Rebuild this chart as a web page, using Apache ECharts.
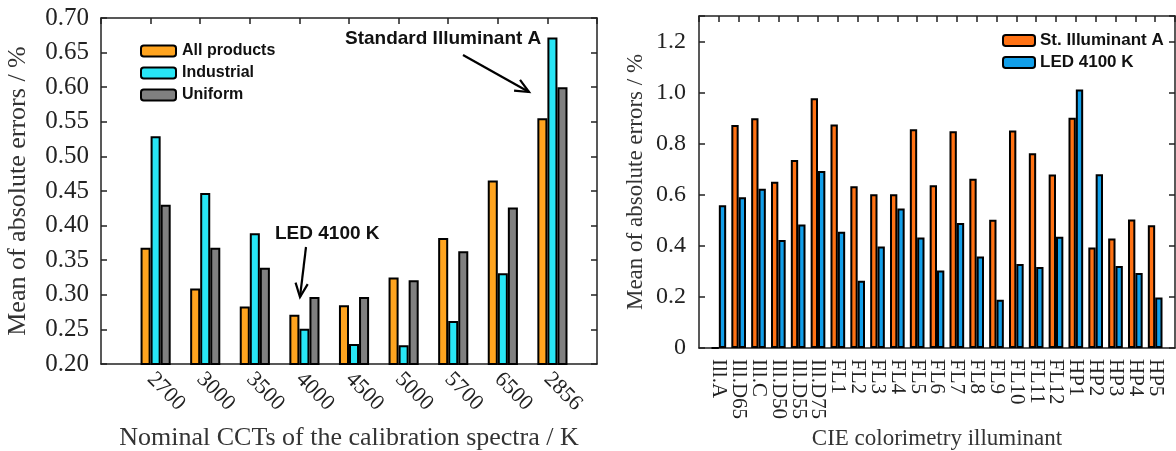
<!DOCTYPE html>
<html>
<head>
<meta charset="utf-8">
<title>Mean of absolute errors</title>
<script src="https://cdn.jsdelivr.net/npm/echarts@6/dist/echarts.min.js"></script>
<style>
  html, body { margin: 0; padding: 0; background: #fff; }
  #chart { width: 1176px; height: 451px; }
</style>
</head>
<body>
<div id="chart"></div>
<script>
// left chart: nominal CCTs of the calibration spectra
const cctLabels = ['2700', '3000', '3500', '4000', '4500', '5000', '5700', '6500', '2856'];
const allProducts = [0.368, 0.309, 0.283, 0.271, 0.285, 0.325, 0.382, 0.465, 0.555];
const industrial = [0.529, 0.447, 0.389, 0.251, 0.229, 0.227, 0.262, 0.331, 0.672];
const uniform = [0.430, 0.368, 0.339, 0.297, 0.297, 0.321, 0.363, 0.426, 0.600];
const leftTicks = [0.20, 0.25, 0.30, 0.35, 0.40, 0.45, 0.50, 0.55, 0.60, 0.65, 0.70];

// right chart: CIE colorimetry illuminants
const illuminants = ['Ill.A', 'Ill.D65', 'Ill.C', 'Ill.D50', 'Ill.D55', 'Ill.D75',
  'FL1', 'FL2', 'FL3', 'FL4', 'FL5', 'FL6', 'FL7', 'FL8', 'FL9', 'FL10', 'FL11', 'FL12',
  'HP1', 'HP2', 'HP3', 'HP4', 'HP5'];
const stIlluminantA = [0, 0.873, 0.900, 0.651, 0.736, 0.978, 0.875, 0.633, 0.602, 0.602,
  0.857, 0.637, 0.849, 0.663, 0.502, 0.852, 0.763, 0.679, 0.902, 0.394, 0.429, 0.503, 0.481];
const led4100 = [0.559, 0.590, 0.624, 0.423, 0.484, 0.693, 0.455, 0.263, 0.397, 0.546,
  0.433, 0.303, 0.489, 0.358, 0.189, 0.329, 0.317, 0.436, 1.012, 0.680, 0.321, 0.294, 0.198];
const rightTicks = [0, 0.2, 0.4, 0.6, 0.8, 1.0, 1.2];

const serif = '"Liberation Serif", "DejaVu Serif", serif';
const sans = '"Liberation Sans", Arial, sans-serif';
const frame = { show: true, onZero: false, lineStyle: { color: '#222', width: 1.5 } };

// one empty slot on each side, like the original xlim [0, n+1]
function pad(arr, blank) {
  return [blank].concat(arr, [blank]);
}

function arrow(x1, y1, x2, y2) {
  const a = Math.atan2(y2 - y1, x2 - x1);
  const len = 15, spread = 0.42;
  const p1 = [x2 - len * Math.cos(a - spread), y2 - len * Math.sin(a - spread)];
  const p2 = [x2 - len * Math.cos(a + spread), y2 - len * Math.sin(a + spread)];
  const st = { stroke: '#000', lineWidth: 2.2, fill: null };
  return [
    { type: 'line', shape: { x1: x1, y1: y1, x2: x2, y2: y2 }, style: st, z: 20 },
    { type: 'polyline', shape: { points: [p1, [x2, y2], p2] }, style: st, z: 20 }
  ];
}

const barBorder = { borderColor: '#000', borderWidth: 2 };
const tickStyle = { color: '#222', width: 1.5 };

const option = {
  animation: false,
  backgroundColor: '#fff',
  grid: [
    // outerBoundsMode none: keep the plot boxes where they are (v6 would shrink them)
    { left: 101, top: 18, width: 496, height: 346, outerBoundsMode: 'none' },
    { left: 699, top: 16, width: 476, height: 332, outerBoundsMode: 'none' }
  ],
  legend: [
    {
      data: ['All products', 'Industrial', 'Uniform'],
      orient: 'vertical', left: 135, top: 38,
      itemWidth: 35, itemHeight: 11, itemGap: 6,
      selectedMode: false,
      itemStyle: { borderColor: '#000', borderWidth: 2 },
      textStyle: { fontFamily: sans, fontWeight: 'bold', fontSize: 16, color: '#111', padding: [0, 0, 0, 1] }
    },
    {
      data: ['St. Illuminant A', 'LED 4100 K'],
      orient: 'vertical', left: 997, top: 27,
      itemWidth: 32, itemHeight: 11, itemGap: 5,
      selectedMode: false,
      itemStyle: { borderColor: '#000', borderWidth: 2 },
      textStyle: { fontFamily: sans, fontWeight: 'bold', fontSize: 17, color: '#111' }
    }
  ],
  xAxis: [
    {
      gridIndex: 0, type: 'category', position: 'bottom', boundaryGap: false,
      data: pad(cctLabels, ''),
      axisLine: frame, axisTick: { show: false },
      axisLabel: { interval: 0, rotate: -45, margin: 12, fontFamily: serif, fontSize: 22, color: '#222' },
      name: 'Nominal CCTs of the calibration spectra / K',
      nameLocation: 'middle', nameGap: 61,
      nameTextStyle: { fontFamily: serif, fontSize: 26, color: '#333' }
    },
    {
      gridIndex: 0, type: 'category', position: 'top', boundaryGap: false,
      data: pad(cctLabels, ''),
      axisLine: frame, axisLabel: { show: false },
      axisTick: { inside: true, interval: 0, length: 6, lineStyle: tickStyle }
    },
    {
      gridIndex: 1, type: 'category', position: 'bottom', boundaryGap: false,
      data: pad(illuminants, ''),
      axisLine: frame, axisTick: { show: false },
      axisLabel: { interval: 0, rotate: -90, margin: 11, fontFamily: serif, fontSize: 21, color: '#222' },
      name: 'CIE colorimetry illuminant',
      nameLocation: 'middle', nameGap: 77,
      nameTextStyle: { fontFamily: serif, fontSize: 23, color: '#333' }
    },
    {
      gridIndex: 1, type: 'category', position: 'top', boundaryGap: false,
      data: pad(illuminants, ''),
      axisLine: frame, axisLabel: { show: false },
      axisTick: { inside: true, interval: 0, length: 6, lineStyle: tickStyle }
    }
  ],
  yAxis: [
    {
      gridIndex: 0, type: 'value', position: 'left',
      min: leftTicks[0], max: leftTicks[leftTicks.length - 1], interval: 0.05,
      axisLine: frame, splitLine: { show: false },
      axisTick: { show: true, inside: true, length: 6, lineStyle: tickStyle },
      axisLabel: { margin: 12, fontFamily: serif, fontSize: 25, color: '#222',
        formatter: v => v.toFixed(2) },
      name: 'Mean of absolute errors / %',
      nameLocation: 'middle', nameGap: 70,
      nameTextStyle: { fontFamily: serif, fontSize: 26, color: '#333' }
    },
    {
      gridIndex: 0, type: 'value', position: 'right',
      min: leftTicks[0], max: leftTicks[leftTicks.length - 1], interval: 0.05,
      axisLine: frame, splitLine: { show: false }, axisLabel: { show: false },
      axisTick: { show: true, inside: true, length: 6, lineStyle: tickStyle }
    },
    {
      gridIndex: 1, type: 'value', position: 'left',
      min: rightTicks[0], max: 1.3, interval: 0.2,
      axisLine: frame, splitLine: { show: false },
      axisTick: { show: true, inside: true, length: 6, lineStyle: tickStyle },
      axisLabel: { margin: 13, fontFamily: serif, fontSize: 24, color: '#222',
        formatter: v => (v > 1.25 ? '' : (v === 0 ? '0' : v.toFixed(1))) },
      name: 'Mean of absolute errors / %',
      nameLocation: 'middle', nameGap: 52,
      nameTextStyle: { fontFamily: serif, fontSize: 23, color: '#333' }
    },
    {
      gridIndex: 1, type: 'value', position: 'right',
      min: rightTicks[0], max: 1.3, interval: 0.2,
      axisLine: frame, splitLine: { show: false }, axisLabel: { show: false },
      axisTick: { show: true, inside: true, length: 6, lineStyle: tickStyle }
    }
  ],
  series: [
    // empty first slot of each group (zero bars in the source figure)
    { name: 'empty', type: 'bar', xAxisIndex: 0, yAxisIndex: 0, barGap: 0, barCategoryGap: '19%',
      data: pad(cctLabels.map(() => '-'), '-') },
    { name: 'All products', type: 'bar', xAxisIndex: 0, yAxisIndex: 0, barGap: 0, barCategoryGap: '19%',
      itemStyle: Object.assign({ color: '#FFA41F' }, barBorder), data: pad(allProducts, '-') },
    { name: 'Industrial', type: 'bar', xAxisIndex: 0, yAxisIndex: 0, barGap: 0, barCategoryGap: '19%',
      itemStyle: Object.assign({ color: '#28E6F6' }, barBorder), data: pad(industrial, '-') },
    { name: 'Uniform', type: 'bar', xAxisIndex: 0, yAxisIndex: 0, barGap: 0, barCategoryGap: '19%',
      itemStyle: Object.assign({ color: '#808080' }, barBorder), data: pad(uniform, '-') },
    { name: 'St. Illuminant A', type: 'bar', xAxisIndex: 2, yAxisIndex: 2, barGap: 0, barCategoryGap: '26%',
      itemStyle: Object.assign({ color: '#FF7214' }, barBorder), data: pad(stIlluminantA, '-') },
    { name: 'LED 4100 K', type: 'bar', xAxisIndex: 2, yAxisIndex: 2, barGap: 0, barCategoryGap: '26%',
      itemStyle: Object.assign({ color: '#129FEA' }, barBorder), data: pad(led4100, '-') }
  ],
  graphic: [
    { type: 'text', left: 345, top: 29, z: 20,
      style: { text: 'Standard Illuminant A', font: 'bold 19px ' + sans, fill: '#111' } },
    { type: 'text', left: 275, top: 224, z: 20,
      style: { text: 'LED 4100 K', font: 'bold 19px ' + sans, fill: '#111' } }
  ].concat(arrow(463, 55, 529, 92), arrow(306, 247, 300, 297))
};

const chart = echarts.init(document.getElementById('chart'), null, { renderer: 'canvas' });
chart.setOption(option);
</script>
</body>
</html>
